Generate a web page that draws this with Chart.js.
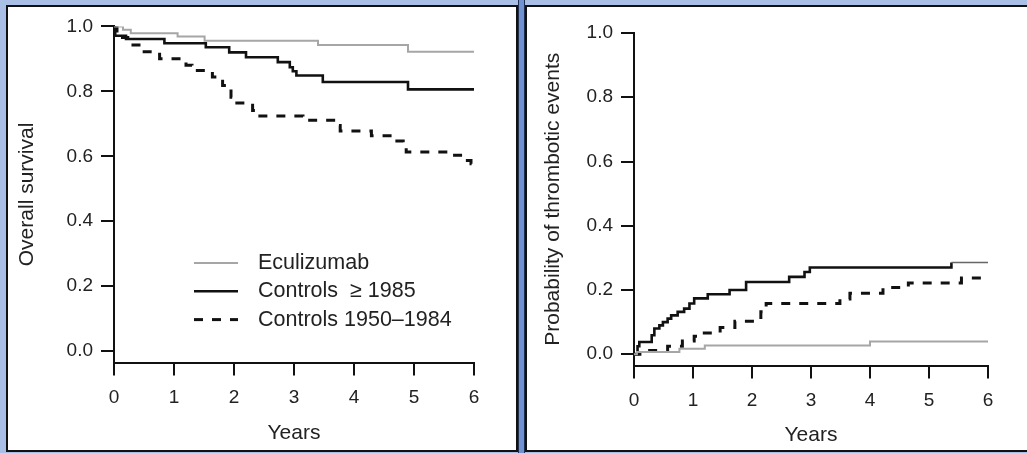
<!DOCTYPE html>
<html>
<head>
<meta charset="utf-8">
<script src="https://cdn.jsdelivr.net/npm/chart.js@4.4.1/dist/chart.umd.min.js"></script>
<style>
  html, body { margin: 0; padding: 0; background: #ffffff; }
  #stage { position: relative; width: 1027px; height: 453px; overflow: hidden; background: #a9bfe6; }
  .panel { position: absolute; box-sizing: border-box; border: 2px solid #111; background: #fff; }
  #p1 { left: 6px; top: 5px; width: 512px; height: 447px; }
  #p2 { left: 525px; top: 5px; width: 510px; height: 447px; }
  #sep { position: absolute; left: 518px; top: 0; width: 7px; height: 453px; box-sizing: border-box;
         background: #7092d2; border-left: 1px solid #22304f; border-right: 1px solid #22304f; }
  canvas { position: absolute; }
  #c1 { left: 8px; top: 7px; }
  #c2 { left: 527px; top: 7px; }
</style>
</head>
<body>
<div id="stage">
  <div class="panel" id="p1"></div>
  <div id="sep"></div>
  <div class="panel" id="p2"></div>
  <canvas id="c1" width="508" height="443"></canvas>
  <canvas id="c2" width="500" height="443"></canvas>
</div>
<script>
// ---------- data ----------
const yearTicks = [0, 1, 2, 3, 4, 5, 6];
const probTicks = [0, 0.2, 0.4, 0.6, 0.8, 1.0];
const seriesLabels = ['Eculizumab', 'Controls  \u2265 1985', 'Controls 1950\u20131984'];

// Panel A: overall survival (Kaplan-Meier steps; value holds from x onward)
const survEcuX = [0, 0.15, 0.28, 1.06, 1.51, 3.40, 4.90, 6];
const survEcuY = [1.0, 0.990, 0.979, 0.969, 0.956, 0.943, 0.922, 0.922];

const survRecentX = [0, 0.02, 0.20, 0.84, 1.53, 1.92, 2.20, 2.73, 2.93, 2.98, 3.04, 3.48, 4.90, 6];
const survRecentY = [1.0, 0.971, 0.961, 0.948, 0.936, 0.920, 0.905, 0.890, 0.874, 0.862, 0.849, 0.829, 0.806, 0.806];

const survOldX = [0, 0.05, 0.23, 0.45, 0.76, 1.20, 1.30, 1.64, 1.81, 1.95, 2.01, 2.31, 2.40, 3.15, 3.70, 3.77, 4.29, 4.65, 4.82, 4.87, 5.61, 5.83, 5.95, 6];
const survOldY = [1.0, 0.966, 0.943, 0.922, 0.900, 0.880, 0.864, 0.844, 0.818, 0.782, 0.764, 0.741, 0.724, 0.711, 0.695, 0.678, 0.663, 0.647, 0.625, 0.613, 0.603, 0.587, 0.577, 0.577];

// Panel B: probability of thrombotic events
const thrEcuX = [0, 0.05, 0.77, 1.20, 4.00, 6];
const thrEcuY = [0, 0.007, 0.017, 0.027, 0.040, 0.040];

const thrRecentX = [0, 0.06, 0.09, 0.30, 0.345, 0.43, 0.49, 0.57, 0.63, 0.74, 0.85, 0.94, 1.02, 1.25, 1.62, 1.90, 2.63, 2.89, 2.98, 5.38, 6];
const thrRecentY = [0, 0.025, 0.038, 0.059, 0.080, 0.090, 0.100, 0.111, 0.121, 0.132, 0.142, 0.158, 0.174, 0.187, 0.200, 0.225, 0.241, 0.256, 0.270, 0.286, 0.286];

const thrOldX = [0, 0.10, 0.57, 0.82, 1.02, 1.16, 1.46, 1.71, 2.15, 2.24, 3.49, 3.66, 4.22, 4.65, 5.55, 6];
const thrOldY = [0, 0.012, 0.025, 0.041, 0.056, 0.066, 0.083, 0.103, 0.132, 0.158, 0.172, 0.190, 0.208, 0.222, 0.237, 0.237];

// ---------- helpers ----------
const FONT = '"Liberation Sans", Arial, Helvetica, sans-serif';
const pts = (xs, ys) => xs.map((x, i) => ({ x: x, y: ys[i] }));

const styleEcu = { borderColor: '#a6a6a6', borderWidth: 2, borderDash: [] };
const styleRecent = { borderColor: '#111111', borderWidth: 2.6, borderDash: [] };
const styleOld = { borderColor: '#111111', borderWidth: 3, borderDash: [9, 9] };

function ds(label, xs, ys, st, extra) {
  return Object.assign({
    label: label,
    data: pts(xs, ys),
    borderColor: st.borderColor,
    borderWidth: st.borderWidth,
    borderDash: st.borderDash,
    stepped: 'before',
    pointRadius: 0,
    pointHoverRadius: 0,
    fill: false,
    tension: 0,
    borderCapStyle: 'butt',
    borderJoinStyle: 'miter'
  }, extra || {});
}

const insideLegend = {
  id: 'insideLegend',
  afterDraw(chart, args, opts) {
    if (!opts || !opts.show) return;
    const ctx = chart.ctx;
    ctx.save();
    chart.data.datasets.forEach((d, i) => {
      const y = opts.y0 + i * opts.dy;
      ctx.beginPath();
      ctx.strokeStyle = d.borderColor;
      ctx.lineWidth = d.borderWidth;
      ctx.setLineDash(d.borderDash || []);
      ctx.lineCap = 'butt';
      ctx.moveTo(opts.x0, y);
      ctx.lineTo(opts.x1, y);
      ctx.stroke();
      ctx.setLineDash([]);
      ctx.fillStyle = '#222';
      ctx.font = opts.fontSize + 'px ' + FONT;
      ctx.textBaseline = 'middle';
      ctx.textAlign = 'left';
      ctx.fillText(d.label, opts.tx, y);
    });
    ctx.restore();
  }
};

function makeChart(canvasId, datasets, g, yTitle, legendOpts) {
  const axisCommon = {
    grid: { display: true, drawOnChartArea: false, drawTicks: true, tickLength: 13, tickWidth: 2,
            tickColor: '#111', color: '#111', lineWidth: 2 },
    border: { display: true, color: '#111', width: 2 }
  };
  return new Chart(document.getElementById(canvasId), {
    type: 'line',
    data: { datasets: datasets },
    options: {
      responsive: false,
      animation: false,
      devicePixelRatio: 1,
      events: [],
      layout: { padding: { left: g.padL, top: g.padT, right: g.padR, bottom: g.padB } },
      plugins: {
        legend: { display: false },
        tooltip: { enabled: false },
        insideLegend: legendOpts
      },
      scales: {
        x: Object.assign({}, axisCommon, {
          type: 'linear', min: 0, max: 6,
          afterBuildTicks: s => { s.ticks = yearTicks.map(v => ({ value: v })); },
          afterFit: s => { s.height = g.xH; },
          ticks: { font: { family: FONT, size: 19 }, color: '#222', padding: 11,
                   autoSkip: false, maxRotation: 0, callback: v => String(v) },
          title: { display: true, text: 'Years', font: { family: FONT, size: 21 }, color: '#222', padding: 0 }
        }),
        y: Object.assign({}, axisCommon, {
          type: 'linear', min: -0.035, max: 1.0,
          afterBuildTicks: s => { s.ticks = probTicks.map(v => ({ value: v })); },
          afterFit: s => { s.width = g.yW; },
          ticks: { font: { family: FONT, size: 19 }, color: '#222', padding: 8,
                   autoSkip: false, callback: v => Number(v).toFixed(1) },
          title: { display: true, text: yTitle, font: { family: FONT, size: 21 }, color: '#222', padding: 0 }
        })
      }
    },
    plugins: [insideLegend]
  });
}

// Panel A
makeChart('c1', [
  ds(seriesLabels[0], survEcuX, survEcuY, styleEcu),
  ds(seriesLabels[1], survRecentX, survRecentY, styleRecent),
  ds(seriesLabels[2], survOldX, survOldY, styleOld)
], { padL: 7, padT: 17, padR: 42, padB: 4, yW: 99, xH: 83.5 }, 'Overall survival',
  { show: true, x0: 186, x1: 230, tx: 250, y0: 256, dy: 28.3, fontSize: 21.5 });

// Panel B
makeChart('c2', [
  ds(seriesLabels[0], thrEcuX, thrEcuY, styleEcu),
  ds(seriesLabels[1], thrRecentX, thrRecentY, styleRecent, {
    segment: {
      borderColor: c => (c.p0.parsed.x >= 5.3 ? '#666666' : undefined),
      borderWidth: c => (c.p0.parsed.x >= 5.3 ? 1.5 : undefined)
    }
  }),
  ds(seriesLabels[2], thrOldX, thrOldY, styleOld)
], { padL: 13.5, padT: 26, padR: 39, padB: 2, yW: 93.5, xH: 82.5 }, 'Probability of thrombotic events',
  { show: false });
</script>
</body>
</html>
